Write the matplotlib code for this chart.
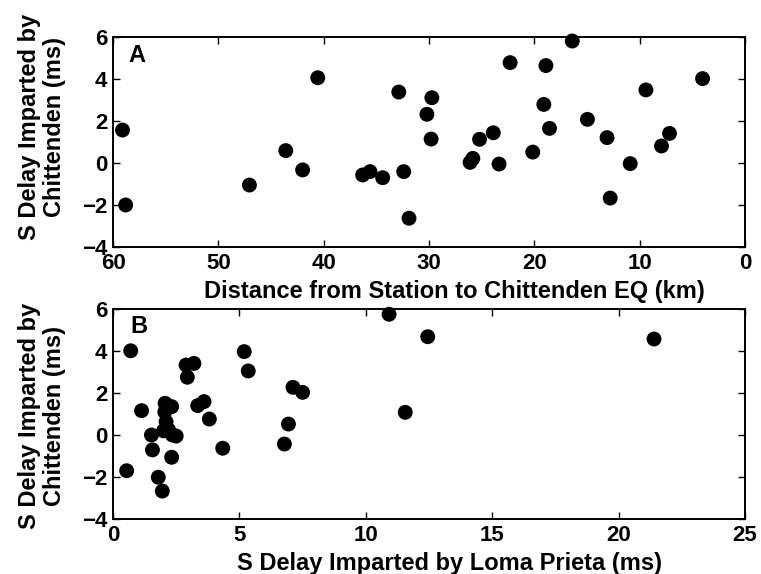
import numpy as np
import matplotlib
matplotlib.use("Agg")
from matplotlib import pyplot as plt

plt.rcParams['font.family'] = ['Liberation Sans', 'DejaVu Sans']
plt.rcParams['font.weight'] = 'bold'
plt.rcParams['axes.labelweight'] = 'bold'

# Panel A: distance from station to Chittenden EQ (km) vs S delay (ms)
dist_km = [59.1, 58.8, 47.05, 43.6, 42.0, 40.56, 36.3, 35.6, 34.4, 32.87, 32.4, 31.9,
           29.73, 30.2, 29.8, 26.1, 25.84, 25.2, 23.9, 23.35, 22.3, 20.15, 18.9, 19.1,
           18.56, 16.4, 14.96, 13.1, 12.8, 10.9, 9.41, 7.93, 7.17, 4.03]
delay_a = [1.57, -2.0, -1.05, 0.59, -0.33, 4.06, -0.57, -0.41, -0.70, 3.38, -0.41, -2.63,
           3.11, 2.32, 1.14, 0.03, 0.22, 1.13, 1.44, -0.05, 4.78, 0.52, 4.64, 2.79,
           1.65, 5.81, 2.08, 1.21, -1.67, -0.03, 3.48, 0.81, 1.41, 4.02]

# Panel B: S delay imparted by Loma Prieta vs S delay imparted by Chittenden
loma_ms = [0.70, 0.54, 1.13, 1.52, 1.56, 1.79, 1.95, 2.06, 2.32, 2.05, 2.1, 2.2, 2.35, 2.5,
           2.0, 2.32, 2.89, 3.2, 2.94, 3.35, 3.6, 3.81, 4.34, 5.19, 5.35, 7.12, 7.5,
           6.94, 6.78, 10.92, 12.45, 11.56, 21.4]
delay_b = [4.01, -1.70, 1.16, 0.0, -0.71, -2.01, -2.67, 1.51, 1.35, 1.1, 0.63, 0.24, 0.0, -0.05,
           0.2, -1.06, 3.33, 3.41, 2.75, 1.40, 1.59, 0.76, -0.63, 3.97, 3.05, 2.27, 2.03,
           0.52, -0.43, 5.75, 4.68, 1.08, 4.57]

ylab = "S Delay Imparted by\nChittenden (ms)"
fs = 16
lfs = 17

fig = plt.figure(figsize=(7.61, 5.74), dpi=100)
axA = fig.add_axes([0.1485, 0.5697, 0.8305, 0.3658])
axB = fig.add_axes([0.1485, 0.0958, 0.8305, 0.3659])

axA.scatter(dist_km, delay_a, s=115, c="black", edgecolors="none", zorder=3, clip_on=False)
axA.set_xlim(60, 0)
axA.set_ylim(-4, 6)
axA.set_xticks([60, 50, 40, 30, 20, 10, 0])
axA.set_yticks([-4, -2, 0, 2, 4, 6])
axA.set_xlabel("Distance from Station to Chittenden EQ (km)", fontsize=lfs)
axA.set_ylabel(ylab, fontsize=lfs, linespacing=1.1)
axA.xaxis.set_label_coords(0.54, -0.155)
axA.yaxis.set_label_coords(-0.075, 0.57)
axA.text(0.024, 0.965, "A", transform=axA.transAxes, fontsize=fs + 1, va="top")

axB.scatter(loma_ms, delay_b, s=115, c="black", edgecolors="none", zorder=3, clip_on=False)
axB.set_xlim(0, 25)
axB.set_ylim(-4, 6)
axB.set_xticks([0, 5, 10, 15, 20, 25])
axB.set_yticks([-4, -2, 0, 2, 4, 6])
axB.set_xlabel("S Delay Imparted by Loma Prieta (ms)", fontsize=lfs)
axB.set_ylabel(ylab, fontsize=lfs, linespacing=1.1)
axB.xaxis.set_label_coords(0.532, -0.155)
axB.yaxis.set_label_coords(-0.075, 0.49)
axB.text(0.028, 0.97, "B", transform=axB.transAxes, fontsize=fs + 1, va="top")

for ax in (axA, axB):
    ax.tick_params(direction="in", top=True, right=True, labelsize=fs,
                   length=5, width=1, pad=4)
    for sp in ax.spines.values():
        sp.set_linewidth(1.4)

fig.savefig("out.png", dpi=100)
